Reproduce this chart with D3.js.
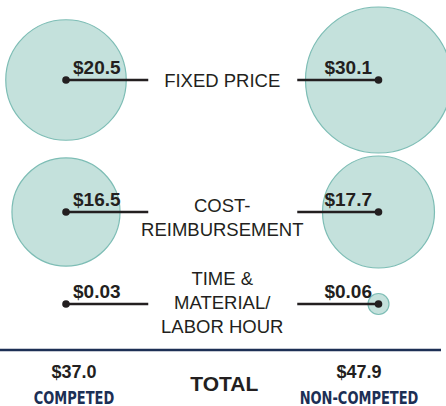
<!DOCTYPE html>
<html>
<head>
<meta charset="utf-8">
<script src="https://cdn.jsdelivr.net/npm/d3@7"></script>
<style>
  html, body { margin: 0; padding: 0; background: #fff; }
  svg { display: block; }
</style>
</head>
<body>
<div id="chart"></div>
<script>
// contract types, one row each (label lines)
var categories = [["FIXED PRICE"], ["COST-", "REIMBURSEMENT"], ["TIME &", "MATERIAL/", "LABOR HOUR"]];
var competed = [20.5, 16.5, 0.03];
var nonCompeted = [30.1, 17.7, 0.06];
var groups = ["COMPETED", "NON-COMPETED"];
var totals = [37.0, 47.9];

var w = 446, h = 406;
var ink = "#231f20", navy = "#1c2f55";
var font = "'Liberation Sans', Arial, sans-serif";
var narrow = "'Liberation Sans Narrow', 'DejaVu Sans Condensed', sans-serif";

var svg = d3.select("#chart").append("svg")
  .attr("width", w).attr("height", h);

var rowIds = categories.map(function(d, i) { return i; });
var y = d3.scaleOrdinal().domain(rowIds).range([80, 212, 304]);
var x = d3.scalePoint().domain(groups).range([66, 378.5]);
var xTot = d3.scalePoint().domain(groups).range([74, 359]);
var r = d3.scaleSqrt().domain([0, 30.1]).range([0, 73]);
var cx = (x(groups[0]) + x(groups[1])) / 2;
var labelShift = [0, 5.5, -1.5];

function money(v) { return "$" + (v < 1 ? v.toFixed(2) : v.toFixed(1)); }
function radius(v) { return v < 0.05 ? r(v) : Math.max(r(v), 10.5); }

var points = [];
rowIds.forEach(function(i) {
  points.push({ row: i, g: groups[0], v: competed[i] });
  points.push({ row: i, g: groups[1], v: nonCompeted[i] });
});

// bubbles
svg.selectAll("circle.bubble")
  .data(points)
  .enter().append("circle")
  .attr("class", "bubble")
  .attr("cx", function(d) { return x(d.g); })
  .attr("cy", function(d) { return y(d.row); })
  .attr("r", function(d) { return radius(d.v); })
  .attr("fill", "#c4e1dc")
  .attr("stroke", "#7dbdb5")
  .attr("stroke-width", 1.2);

// leader lines
svg.selectAll("line.lead")
  .data(points)
  .enter().append("line")
  .attr("class", "lead")
  .attr("x1", function(d) { return x(d.g); })
  .attr("x2", function(d) { return d.g === groups[0] ? cx - 74 : cx + 75; })
  .attr("y1", function(d) { return y(d.row); })
  .attr("y2", function(d) { return y(d.row); })
  .attr("stroke", ink)
  .attr("stroke-width", 2.5);

svg.selectAll("circle.dot")
  .data(points)
  .enter().append("circle")
  .attr("class", "dot")
  .attr("cx", function(d) { return x(d.g); })
  .attr("cy", function(d) { return y(d.row); })
  .attr("r", 3.8)
  .attr("fill", ink);

// value labels
svg.selectAll("text.val")
  .data(points)
  .enter().append("text")
  .attr("class", "val")
  .attr("x", function(d) { return d.g === groups[0] ? x(d.g) + 7 : x(d.g) - 6.5; })
  .attr("y", function(d) { return y(d.row) - 6.5; })
  .attr("text-anchor", function(d) { return d.g === groups[0] ? "start" : "end"; })
  .attr("font-family", font)
  .attr("font-weight", "bold")
  .attr("font-size", "19px")
  .attr("fill", ink)
  .text(function(d) { return money(d.v); });

// category labels
rowIds.forEach(function(i) {
  var lines = categories[i];
  var first = y(i) + 6.5 - (lines.length - 1) * 12 + labelShift[i];
  svg.append("text")
    .attr("text-anchor", "middle")
    .attr("font-family", font)
    .attr("font-size", "18.5px")
    .attr("fill", ink)
    .selectAll("tspan")
    .data(lines)
    .enter().append("tspan")
    .attr("x", cx)
    .attr("y", function(d, j) { return first + j * 23.8; })
    .text(function(d) { return d; });
});

// separator
svg.append("line")
  .attr("x1", 0).attr("x2", 441)
  .attr("y1", 350).attr("y2", 350)
  .attr("stroke", navy)
  .attr("stroke-width", 2.6);

// totals
svg.selectAll("text.tot")
  .data(totals)
  .enter().append("text")
  .attr("class", "tot")
  .attr("x", function(d, i) { return xTot(groups[i]); })
  .attr("y", 377.5)
  .attr("text-anchor", "middle")
  .attr("font-family", font)
  .attr("font-weight", "bold")
  .attr("font-size", "18px")
  .attr("fill", ink)
  .text(function(d) { return money(d); });

// condensed group names
svg.selectAll("text.grp")
  .data(groups)
  .enter().append("text")
  .attr("class", "grp")
  .attr("transform", function(d) { return "translate(" + xTot(d) + ",403.5) scale(0.85,1)"; })
  .attr("text-anchor", "middle")
  .attr("font-family", narrow)
  .attr("font-weight", "bold")
  .attr("font-size", "17px")
  .attr("fill", navy)
  .text(function(d) { return d; });

svg.append("text")
  .attr("x", cx + 2)
  .attr("y", 390.5)
  .attr("text-anchor", "middle")
  .attr("font-family", font)
  .attr("font-weight", "bold")
  .attr("font-size", "21px")
  .attr("fill", ink)
  .text("TOTAL");
</script>
</body>
</html>
